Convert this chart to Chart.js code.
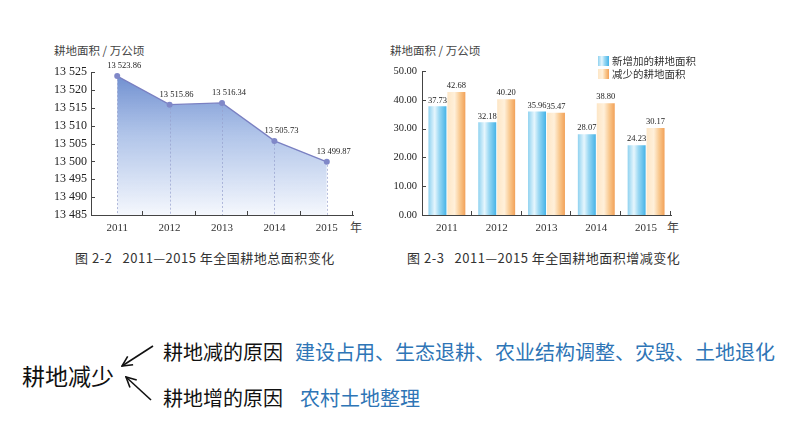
<!DOCTYPE html>
<html>
<head>
<meta charset="utf-8">
<script src="https://cdn.jsdelivr.net/npm/chart.js@4.4.1/dist/chart.umd.min.js"></script>
<style>
  body { margin: 0; background: #fff; }
  #page { position: relative; width: 794px; height: 447px; overflow: hidden; font-family: "Noto Sans CJK SC", "Noto Sans", sans-serif; }
  .t { position: absolute; white-space: pre; line-height: 1; }
  canvas { position: absolute; }
</style>
</head>
<body>
<div id="page">
  <div class="t" style="left:54px;top:45px;font-size:11.5px;color:#444;">耕地面积 / 万公顷</div>
  <div class="t" style="left:390px;top:45px;font-size:11.5px;color:#444;">耕地面积 / 万公顷</div>
  <div class="t" style="left:350px;top:221px;font-size:12px;color:#444;">年</div>
  <div class="t" style="left:667px;top:221px;font-size:12px;color:#444;">年</div>
  <div class="t" style="left:75px;top:251px;font-size:13px;letter-spacing:0.5px;color:#333;">图 2-2   2011—2015 年全国耕地总面积变化</div>
  <div class="t" style="left:407px;top:251px;font-size:13px;letter-spacing:0.5px;color:#333;">图 2-3   2011—2015 年全国耕地面积增减变化</div>

  <div class="t" style="left:22px;top:364px;font-size:23px;color:#111;">耕地减少</div>
  <div class="t" style="left:163px;top:342px;font-size:20px;color:#111;">耕地减的原因</div>
  <div class="t" style="left:295px;top:342px;font-size:20px;color:#2e75b6;">建设占用、生态退耕、农业结构调整、灾毁、土地退化</div>
  <div class="t" style="left:163px;top:388px;font-size:20px;color:#111;">耕地增的原因</div>
  <div class="t" style="left:300px;top:388px;font-size:20px;color:#2e75b6;">农村土地整理</div>

  <svg width="794" height="447" style="position:absolute;left:0;top:0;">
    <defs>
      <marker id="head" viewBox="0 0 12 12" refX="11" refY="6" markerWidth="12" markerHeight="12" markerUnits="userSpaceOnUse" orient="auto">
        <path d="M1,1 L11,6 L1,11" fill="none" stroke="#111" stroke-width="1.6"/>
      </marker>
    </defs>
    <line x1="153" y1="346" x2="122" y2="366" stroke="#111" stroke-width="1.6" marker-end="url(#head)"/>
    <line x1="151" y1="400" x2="126" y2="377" stroke="#111" stroke-width="1.6" marker-end="url(#head)"/>
  </svg>

  <canvas id="total-chart" width="330" height="185" style="left:40px;top:55px;"></canvas>
  <canvas id="change-chart" width="320" height="185" style="left:380px;top:55px;"></canvas>
</div>

<script>
const years = ['2011', '2012', '2013', '2014', '2015'];
const totalArea = [13523.86, 13515.86, 13516.34, 13505.73, 13499.87];
const addedArea = [37.73, 32.18, 35.96, 28.07, 24.23];
const lostArea = [42.68, 40.20, 35.47, 38.80, 30.17];
const totalTicks = [13485, 13525, 5];   // min, max, step
const changeTicks = [0, 50, 10];
const seriesNames = ['新增加的耕地面积', '减少的耕地面积'];

const SERIF = '"Liberation Serif", "DejaVu Serif", serif';
const CJK = '"Noto Sans CJK SC", sans-serif';
const AXIS = '#444';
const CAT_PCT = 0.76, BAR_PCT = 0.95;

const blueStops = [[0, '#8fd2f0'], [0.35, '#e6f6fd'], [0.6, '#9ad8f3'], [1, '#45b3e7']];
const orangeStops = [[0, '#fde6c6'], [0.4, '#fff0da'], [0.7, '#f9c88e'], [1, '#f2a158']];

function spaced(v) {
    const [i, d] = String(v).split('.');
    const s = i.replace(/\B(?=(\d{3})+(?!\d))/g, ' ');
    return d ? s + '.' + d : s;
}

// small inward tick marks on both axes
const innerTicks = {
    id: 'innerTicks',
    afterDraw(chart) {
        const { ctx, chartArea, scales: { x, y } } = chart;
        ctx.save();
        ctx.strokeStyle = AXIS;
        ctx.lineWidth = 1;
        ctx.beginPath();
        y.ticks.forEach((t, i) => {
            if (i === 0) return;
            const py = Math.round(y.getPixelForValue(t.value)) + 0.5;
            ctx.moveTo(chartArea.left, py);
            ctx.lineTo(chartArea.left + 4, py);
        });
        const step = x.getPixelForValue(1) - x.getPixelForValue(0);
        years.forEach((_, i) => {
            const px = Math.round(x.getPixelForValue(i) + step / 2) - 0.5;
            ctx.moveTo(px, chartArea.bottom);
            ctx.lineTo(px, chartArea.bottom - 4);
        });
        ctx.stroke();
        ctx.restore();
    }
};

const lineDecor = {
    id: 'lineDecor',
    afterDatasetsDraw(chart) {
        const { ctx, chartArea } = chart;
        const pts = chart.getDatasetMeta(0).data;
        ctx.save();
        ctx.strokeStyle = 'rgba(150,160,205,0.7)';
        ctx.setLineDash([2, 2]);
        ctx.lineWidth = 1;
        pts.forEach(p => {
            ctx.beginPath();
            ctx.moveTo(Math.round(p.x) + 0.5, p.y + 3);
            ctx.lineTo(Math.round(p.x) + 0.5, chartArea.bottom);
            ctx.stroke();
        });
        ctx.setLineDash([]);
        ctx.fillStyle = '#222';
        ctx.font = '8.5px ' + SERIF;
        ctx.textAlign = 'center';
        ctx.textBaseline = 'middle';
        pts.forEach((p, i) => {
            ctx.fillText(spaced(totalArea[i].toFixed(2)), p.x + 7, p.y - 10);
        });
        ctx.restore();
    }
};

function barGradient(stops) {
    return (c) => {
        const chart = c.chart, x = chart.scales.x;
        if (!x || c.dataIndex === undefined || !chart.chartArea) return stops[stops.length - 1][1];
        const cat = x.getPixelForValue(1) - x.getPixelForValue(0);
        const group = cat * CAT_PCT;
        const chunk = group / 2;
        const w = chunk * BAR_PCT;
        const cx = x.getPixelForValue(c.dataIndex) - group / 2 + chunk * c.datasetIndex + chunk / 2;
        const g = chart.ctx.createLinearGradient(cx - w / 2, 0, cx + w / 2, 0);
        stops.forEach(([o, col]) => g.addColorStop(o, col));
        return g;
    };
}

const barDecor = {
    id: 'barDecor',
    afterDatasetsDraw(chart) {
        const { ctx } = chart;
        ctx.save();
        ctx.fillStyle = '#222';
        ctx.font = '8.5px ' + SERIF;
        ctx.textAlign = 'center';
        ctx.textBaseline = 'middle';
        chart.data.datasets.forEach((ds, d) => {
            chart.getDatasetMeta(d).data.forEach((el, i) => {
                ctx.fillText(ds.data[i].toFixed(2), el.x, el.y - 6);
            });
        });
        // legend
        const lx = 218, ly = [1, 14];
        ctx.font = '10.5px ' + CJK;
        ctx.textAlign = 'left';
        [blueStops, orangeStops].forEach((stops, k) => {
            const g = ctx.createLinearGradient(lx, 0, lx + 11, 0);
            stops.forEach(([o, col]) => g.addColorStop(o, col));
            ctx.fillStyle = g;
            ctx.fillRect(lx, ly[k], 11, 10);
            ctx.fillStyle = '#333';
            ctx.fillText(seriesNames[k], lx + 14, ly[k] + 5.5);
        });
        ctx.restore();
    }
};

function xAxis() {
    return {
        offset: true,
        grid: { display: false, drawTicks: false },
        border: { display: true, color: AXIS, width: 1 },
        ticks: { color: '#333', font: { family: SERIF, size: 11 }, padding: 7 },
        afterFit(s) { s.height = 25; }
    };
}

new Chart(document.getElementById('total-chart'), {
    type: 'line',
    data: {
        labels: years,
        datasets: [{
            data: totalArea,
            borderColor: '#7a80c2',
            borderWidth: 1.3,
            pointRadius: 3,
            pointBackgroundColor: '#8088c8',
            pointBorderWidth: 0,
            tension: 0,
            fill: 'start',
            backgroundColor(c) {
                const { ctx, chartArea } = c.chart;
                if (!chartArea) return 'rgba(120,150,210,0.6)';
                const g = ctx.createLinearGradient(0, chartArea.top, 0, chartArea.bottom);
                g.addColorStop(0, 'rgba(100,134,204,0.95)');
                g.addColorStop(0.45, 'rgba(165,188,230,0.85)');
                g.addColorStop(1, 'rgba(244,247,253,0.9)');
                return g;
            }
        }]
    },
    options: {
        responsive: false,
        animation: false,
        layout: { padding: { top: 17, right: 17, left: 0, bottom: 0 } },
        plugins: { legend: { display: false }, tooltip: { enabled: false } },
        scales: {
            x: xAxis(),
            y: {
                min: totalTicks[0],
                max: totalTicks[1],
                grid: { display: false, drawTicks: false },
                border: { display: true, color: AXIS, width: 1 },
                ticks: {
                    stepSize: totalTicks[2],
                    color: '#222',
                    font: { family: SERIF, size: 12 },
                    padding: 4,
                    callback: v => spaced(v)
                },
                afterFit(s) { s.width = 51; }
            }
        }
    },
    plugins: [lineDecor, innerTicks]
});

new Chart(document.getElementById('change-chart'), {
    type: 'bar',
    data: {
        labels: years,
        datasets: [
            { label: seriesNames[0], data: addedArea, backgroundColor: barGradient(blueStops) },
            { label: seriesNames[1], data: lostArea, backgroundColor: barGradient(orangeStops) }
        ]
    },
    options: {
        responsive: false,
        animation: false,
        categoryPercentage: CAT_PCT,
        barPercentage: BAR_PCT,
        layout: { padding: { top: 16, right: 29, left: 0, bottom: 0 } },
        plugins: { legend: { display: false }, tooltip: { enabled: false } },
        scales: {
            x: xAxis(),
            y: {
                min: changeTicks[0],
                max: changeTicks[1],
                grid: { display: false, drawTicks: false },
                border: { display: true, color: AXIS, width: 1 },
                ticks: {
                    stepSize: changeTicks[2],
                    color: '#222',
                    font: { family: SERIF, size: 10.5 },
                    padding: 5,
                    callback: v => Number(v).toFixed(2)
                },
                afterFit(s) { s.width = 42; }
            }
        }
    },
    plugins: [barDecor, innerTicks]
});
</script>
</body>
</html>
